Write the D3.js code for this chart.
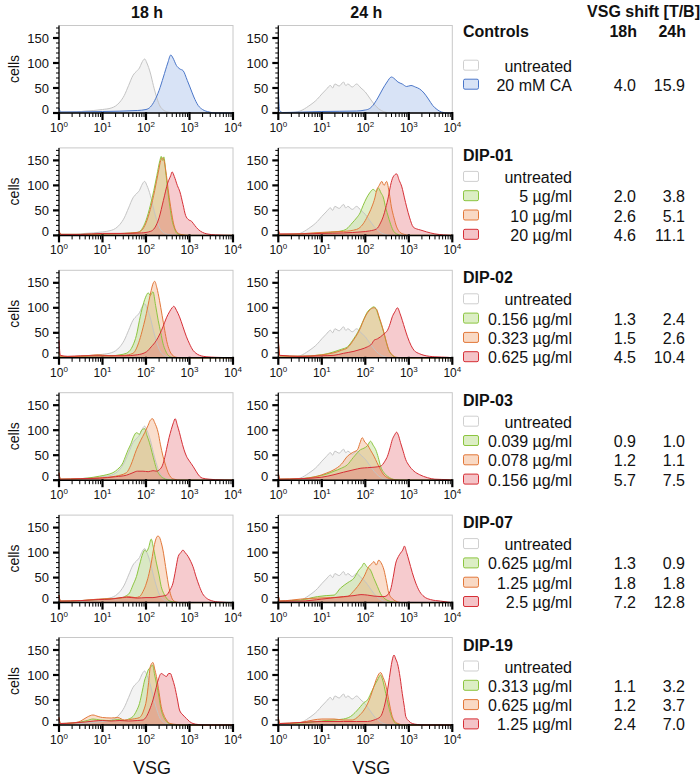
<!DOCTYPE html>
<html>
<head>
<meta charset="utf-8">
<script src="https://cdn.jsdelivr.net/npm/d3@7"></script>
<style>
    body { margin: 0; background: #fff; }
    text { font-family: "Liberation Sans", Arial, sans-serif; fill: #111; }
</style>
</head>
<body>
<div id="chart"></div>
<script>
// histogram points: [log10(VSG), cells]
var untreated18 = [[0,8],[0.04,2],[0.4,2],[0.6,4],[0.8,5],[1.0,7],[1.2,10],[1.3,14],[1.4,22],[1.5,35],[1.6,55],[1.7,75],[1.8,85],[1.85,90],[1.9,100],[1.97,108],[2.02,100],[2.1,80],[2.17,55],[2.25,30],[2.32,14],[2.4,6],[2.5,2],[2.7,0],[4,0]];
var untreated24 = [[0,4],[0.04,1],[0.3,1],[0.5,4],[0.7,14],[0.9,28],[1.0,38],[1.1,47],[1.2,55],[1.25,50],[1.3,58],[1.4,54],[1.5,62],[1.55,55],[1.6,58],[1.7,52],[1.8,58],[1.9,50],[2.0,42],[2.1,30],[2.2,18],[2.3,9],[2.45,2],[2.6,0],[4,0]];

var ca18 = [[0,10],[0.04,2],[1.0,3],[1.8,5],[2.0,7],[2.1,12],[2.2,25],[2.3,45],[2.4,72],[2.5,100],[2.57,116],[2.62,110],[2.7,95],[2.78,88],[2.85,85],[2.95,65],[3.01,52],[3.1,32],[3.2,15],[3.3,7],[3.45,2],[3.6,0],[4,0]];
var ca24 = [[0,45],[0.03,5],[0.1,1],[1.0,3],[1.8,4],[2.0,6],[2.1,9],[2.2,18],[2.3,32],[2.4,48],[2.5,62],[2.6,72],[2.65,70],[2.75,62],[2.85,58],[2.95,53],[3.05,55],[3.15,52],[3.25,48],[3.35,40],[3.45,28],[3.55,15],[3.65,7],[3.75,2],[3.9,0],[4,0]];

var dip01Low18 = [[0,8],[0.04,2],[0.5,2],[1.0,3],[1.5,4],[1.8,6],[1.9,12],[2.0,30],[2.1,60],[2.18,90],[2.25,120],[2.32,150],[2.35,158],[2.38,150],[2.41,157],[2.45,130],[2.5,90],[2.55,57],[2.6,30],[2.65,15],[2.71,4],[2.8,1],[3.0,0],[4,0]];
var dip01Mid18 = [[0,8],[0.04,2],[0.5,2],[1.0,3],[1.5,4],[1.8,6],[1.9,10],[2.0,25],[2.1,52],[2.2,90],[2.28,125],[2.34,150],[2.38,155],[2.42,148],[2.47,120],[2.52,85],[2.58,50],[2.63,25],[2.7,8],[2.8,2],[3.0,0],[4,0]];
var dip01High18 = [[0,10],[0.04,2],[0.5,2],[1.0,4],[1.5,4],[1.9,5],[2.1,8],[2.2,15],[2.3,35],[2.4,70],[2.5,105],[2.57,120],[2.6,127],[2.65,118],[2.72,100],[2.78,87],[2.85,62],[2.91,40],[2.97,32],[3.05,28],[3.12,20],[3.2,12],[3.3,6],[3.4,3],[3.6,1],[4,0]];
var dip01Low24 = [[0,8],[0.04,2],[0.5,3],[1.0,5],[1.3,7],[1.5,10],[1.57,13],[1.7,25],[1.8,35],[1.88,45],[1.95,60],[2.03,75],[2.1,85],[2.18,92],[2.25,88],[2.3,95],[2.36,85],[2.41,77],[2.47,55],[2.53,37],[2.6,18],[2.64,10],[2.72,3],[2.85,0],[4,0]];
var dip01Mid24 = [[0,8],[0.04,2],[0.5,3],[0.8,5],[1.2,7],[1.5,8],[1.8,12],[1.95,23],[2.05,38],[2.15,57],[2.22,75],[2.26,90],[2.32,100],[2.38,108],[2.43,100],[2.49,108],[2.55,85],[2.6,57],[2.66,35],[2.72,17],[2.8,6],[2.9,2],[3.0,0],[4,0]];
var dip01High24 = [[0,12],[0.04,3],[0.5,3],[1.0,4],[1.5,5],[1.9,7],[2.1,9],[2.26,13],[2.35,25],[2.41,37],[2.47,55],[2.53,77],[2.58,100],[2.64,117],[2.72,123],[2.78,110],[2.84,97],[2.9,75],[2.95,57],[3.02,35],[3.1,17],[3.18,13],[3.26,11],[3.41,7],[3.6,3],[3.8,1],[4,0]];

var dip02Low18 = [[0,10],[0.04,2],[0.5,3],[0.9,4],[1.2,4],[1.4,6],[1.55,9],[1.7,25],[1.78,45],[1.85,75],[1.93,105],[2.01,125],[2.05,130],[2.1,125],[2.16,132],[2.22,105],[2.28,75],[2.34,50],[2.39,29],[2.45,14],[2.51,5],[2.6,1],[2.8,0],[4,0]];
var dip02Mid18 = [[0,10],[0.04,2],[0.5,3],[0.9,6],[1.2,4],[1.5,5],[1.7,9],[1.85,35],[1.93,60],[2.01,89],[2.07,115],[2.12,135],[2.17,150],[2.2,153],[2.25,140],[2.31,115],[2.37,85],[2.43,55],[2.48,32],[2.54,15],[2.6,6],[2.7,1],[2.8,0],[4,0]];
var dip02High18 = [[0,35],[0.03,5],[0.2,3],[0.5,4],[1.0,4],[1.5,4],[1.8,6],[2.01,12],[2.12,22],[2.24,35],[2.32,48],[2.39,62],[2.47,80],[2.54,92],[2.6,100],[2.64,103],[2.7,95],[2.77,82],[2.85,62],[2.93,42],[3.0,28],[3.08,15],[3.15,9],[3.23,5],[3.4,2],[3.6,1],[4,0]];
var dip02Low24 = [[0,35],[0.03,4],[0.5,3],[1.0,6],[1.28,12],[1.45,17],[1.59,22],[1.74,39],[1.82,50],[1.89,62],[1.97,78],[2.05,92],[2.12,98],[2.2,102],[2.26,95],[2.31,82],[2.37,66],[2.43,49],[2.48,32],[2.54,15],[2.62,5],[2.7,1],[2.9,0],[4,0]];
var dip02Mid24 = [[0,35],[0.03,4],[0.5,3],[1.0,6],[1.28,10],[1.45,15],[1.59,20],[1.74,37],[1.82,48],[1.89,60],[1.97,77],[2.05,90],[2.12,97],[2.2,100],[2.26,97],[2.31,84],[2.37,68],[2.43,50],[2.48,33],[2.54,16],[2.62,6],[2.7,1],[2.9,0],[4,0]];
var dip02High24 = [[0,40],[0.03,5],[0.5,3],[1.0,4],[1.28,5],[1.5,9],[1.74,13],[1.9,17],[2.05,22],[2.15,28],[2.2,35],[2.28,38],[2.35,42],[2.43,48],[2.51,55],[2.57,68],[2.62,82],[2.68,92],[2.74,100],[2.8,88],[2.85,75],[2.91,58],[2.97,42],[3.05,25],[3.12,15],[3.25,8],[3.35,5],[3.6,2],[3.9,1],[4,0]];

var dip03Low18 = [[0,15],[0.03,2],[0.5,3],[0.8,6],[0.93,8],[1.1,11],[1.24,15],[1.35,22],[1.47,35],[1.53,48],[1.59,61],[1.65,72],[1.72,88],[1.78,95],[1.85,92],[1.9,100],[1.97,103],[2.02,90],[2.08,75],[2.14,55],[2.2,35],[2.25,20],[2.31,11],[2.4,4],[2.5,1],[2.7,0],[4,0]];
var dip03Mid18 = [[0,15],[0.03,2],[0.5,3],[1.0,5],[1.3,8],[1.55,15],[1.65,30],[1.78,61],[1.88,80],[1.97,95],[2.05,110],[2.1,120],[2.15,123],[2.2,115],[2.28,95],[2.33,72],[2.39,48],[2.45,30],[2.51,15],[2.57,6],[2.65,2],[2.8,0],[4,0]];
var dip03High18 = [[0,15],[0.03,2],[0.5,3],[0.93,4],[1.3,7],[1.55,10],[1.7,15],[1.8,18],[1.93,18],[2.05,17],[2.16,19],[2.25,18],[2.31,21],[2.38,30],[2.43,45],[2.47,61],[2.53,85],[2.58,101],[2.63,115],[2.67,123],[2.72,110],[2.77,95],[2.81,81],[2.87,62],[2.93,48],[3.0,38],[3.08,28],[3.15,18],[3.23,8],[3.3,4],[3.45,2],[3.6,1],[4,0]];
var dip03Low24 = [[0,15],[0.03,2],[0.5,3],[0.9,8],[1.1,12],[1.28,18],[1.45,24],[1.59,31],[1.72,45],[1.82,55],[1.89,61],[1.97,64],[2.05,69],[2.12,78],[2.18,70],[2.24,61],[2.3,45],[2.35,28],[2.43,15],[2.51,8],[2.6,3],[2.7,1],[2.9,0],[4,0]];
var dip03Mid24 = [[0,15],[0.03,2],[0.5,3],[0.9,8],[1.1,14],[1.28,21],[1.45,32],[1.59,48],[1.7,55],[1.82,61],[1.88,75],[1.93,85],[1.99,76],[2.05,71],[2.12,60],[2.2,48],[2.27,35],[2.35,21],[2.43,10],[2.51,5],[2.6,2],[2.75,0],[4,0]];
var dip03High24 = [[0,15],[0.03,2],[0.5,3],[1.0,6],[1.28,11],[1.5,16],[1.74,21],[1.9,24],[2.05,25],[2.2,26],[2.35,28],[2.45,38],[2.51,48],[2.57,65],[2.62,81],[2.67,90],[2.72,96],[2.76,90],[2.81,75],[2.87,58],[2.93,41],[3.0,30],[3.12,18],[3.25,11],[3.43,5],[3.6,2],[3.9,1],[4,0]];

var dip07Low18 = [[0,15],[0.03,3],[0.5,4],[0.9,6],[1.2,8],[1.4,9],[1.55,14],[1.62,19],[1.7,35],[1.78,52],[1.85,75],[1.93,99],[1.97,105],[2.01,102],[2.06,110],[2.12,127],[2.17,110],[2.24,79],[2.3,55],[2.35,32],[2.41,18],[2.47,9],[2.55,3],[2.65,1],[2.8,0],[4,0]];
var dip07Mid18 = [[0,15],[0.03,3],[0.5,4],[0.9,7],[1.2,8],[1.5,10],[1.6,12],[1.75,10],[1.85,12],[1.93,22],[2.01,39],[2.07,58],[2.12,79],[2.17,105],[2.22,125],[2.27,133],[2.3,132],[2.35,120],[2.39,105],[2.45,72],[2.51,39],[2.56,18],[2.62,5],[2.7,1],[2.8,0],[4,0]];
var dip07High18 = [[0,15],[0.03,3],[0.5,4],[0.9,6],[1.2,7],[1.55,11],[1.8,9],[2.0,10],[2.16,10],[2.3,12],[2.47,15],[2.55,25],[2.62,39],[2.68,65],[2.74,92],[2.8,100],[2.85,105],[2.9,100],[2.97,92],[3.03,82],[3.08,72],[3.15,52],[3.23,32],[3.3,18],[3.39,9],[3.5,4],[3.7,1],[4,0]];
var dip07Low24 = [[0,15],[0.03,3],[0.3,4],[0.51,5],[0.9,12],[1.1,14],[1.28,15],[1.43,29],[1.6,40],[1.74,49],[1.85,65],[1.92,72],[1.97,79],[2.03,72],[2.12,65],[2.2,48],[2.28,32],[2.35,18],[2.43,9],[2.52,4],[2.65,1],[2.8,0],[4,0]];
var dip07Mid24 = [[0,15],[0.03,3],[0.3,5],[0.51,7],[0.9,9],[1.2,10],[1.59,12],[1.72,22],[1.82,32],[1.9,42],[1.97,52],[2.08,72],[2.15,78],[2.2,82],[2.25,75],[2.31,85],[2.36,80],[2.43,65],[2.48,45],[2.54,19],[2.62,8],[2.7,3],[2.85,0],[4,0]];
var dip07High24 = [[0,15],[0.03,3],[0.5,3],[1.0,7],[1.3,10],[1.5,12],[1.74,14],[1.9,16],[2.05,15],[2.2,13],[2.43,12],[2.52,16],[2.58,25],[2.64,50],[2.7,79],[2.76,92],[2.81,99],[2.86,105],[2.9,113],[2.95,100],[3.0,85],[3.08,60],[3.16,39],[3.25,22],[3.35,12],[3.5,6],[3.73,3],[3.9,1],[4,0]];

var dip19Low18 = [[0,15],[0.03,3],[0.3,4],[0.5,6],[0.65,9],[0.78,12],[0.95,10],[1.2,9],[1.35,11],[1.5,9],[1.6,12],[1.7,17],[1.78,28],[1.85,43],[1.92,70],[1.97,90],[2.02,102],[2.05,110],[2.1,115],[2.15,120],[2.2,100],[2.24,83],[2.3,55],[2.35,30],[2.41,15],[2.47,7],[2.55,2],[2.7,0],[4,0]];
var dip19Mid18 = [[0,15],[0.03,3],[0.3,4],[0.5,8],[0.65,16],[0.78,20],[0.9,17],[1.0,15],[1.2,14],[1.35,15],[1.5,10],[1.7,12],[1.85,15],[1.95,30],[2.01,50],[2.06,85],[2.1,117],[2.16,125],[2.2,112],[2.24,97],[2.3,65],[2.35,37],[2.41,20],[2.47,10],[2.55,3],[2.7,1],[2.9,0],[4,0]];
var dip19High18 = [[0,15],[0.03,3],[0.3,4],[0.6,6],[0.8,8],[1.0,9],[1.2,8],[1.4,9],[1.6,8],[1.8,9],[1.93,10],[2.01,17],[2.08,30],[2.16,50],[2.22,70],[2.28,90],[2.35,103],[2.41,100],[2.47,97],[2.52,103],[2.56,103],[2.61,92],[2.66,77],[2.72,52],[2.77,30],[2.85,20],[2.93,13],[3.0,7],[3.08,3],[3.2,1],[3.4,0],[4,0]];
var dip19Low24 = [[0,15],[0.03,3],[0.5,4],[0.9,7],[1.1,9],[1.28,10],[1.5,12],[1.66,17],[1.8,28],[1.89,37],[1.97,45],[2.05,50],[2.12,62],[2.2,77],[2.28,90],[2.35,100],[2.4,90],[2.47,63],[2.53,40],[2.58,23],[2.64,10],[2.7,3],[2.85,0],[4,0]];
var dip19Mid24 = [[0,15],[0.03,3],[0.5,5],[0.8,10],[1.0,12],[1.28,12],[1.5,10],[1.7,10],[1.85,18],[1.97,30],[2.05,42],[2.12,57],[2.2,78],[2.28,97],[2.35,105],[2.41,95],[2.47,80],[2.51,63],[2.56,40],[2.62,17],[2.68,7],[2.75,3],[2.9,0],[4,0]];
var dip19High24 = [[0,15],[0.03,3],[0.5,5],[1.0,7],[1.5,7],[1.8,7],[2.05,7],[2.2,10],[2.35,17],[2.43,35],[2.47,50],[2.53,80],[2.58,110],[2.62,130],[2.66,140],[2.7,132],[2.74,123],[2.8,95],[2.85,63],[2.9,35],[2.93,17],[3.0,8],[3.08,3],[3.2,1],[3.4,0],[4,0]];

var timepoints = ["18 h", "24 h"];
var shiftHeaders = ["18h", "24h"];
var groupNames = ["Controls", "DIP-01", "DIP-02", "DIP-03", "DIP-07", "DIP-19"];
var doseLabels = [
    ["20 mM CA"],
    ["5 µg/ml", "10 µg/ml", "20 µg/ml"],
    ["0.156 µg/ml", "0.323 µg/ml", "0.625 µg/ml"],
    ["0.039 µg/ml", "0.078 µg/ml", "0.156 µg/ml"],
    ["0.625 µg/ml", "1.25 µg/ml", "2.5 µg/ml"],
    ["0.313 µg/ml", "0.625 µg/ml", "1.25 µg/ml"]
];
var shift18 = [["4.0"], ["2.0", "2.6", "4.6"], ["1.3", "1.5", "4.5"], ["0.9", "1.2", "5.7"], ["1.3", "1.8", "7.2"], ["1.1", "1.2", "2.4"]];
var shift24 = [["15.9"], ["3.8", "5.1", "11.1"], ["2.4", "2.6", "10.4"], ["1.0", "1.1", "7.5"], ["0.9", "1.8", "12.8"], ["3.2", "3.7", "7.0"]];
var yTicks = [0, 50, 100, 150];

// per group: [18h curves, 24h curves]
var curves = [
    [[ca18], [ca24]],
    [[dip01Low18, dip01Mid18, dip01High18], [dip01Low24, dip01Mid24, dip01High24]],
    [[dip02Low18, dip02Mid18, dip02High18], [dip02Low24, dip02Mid24, dip02High24]],
    [[dip03Low18, dip03Mid18, dip03High18], [dip03Low24, dip03Mid24, dip03High24]],
    [[dip07Low18, dip07Mid18, dip07High18], [dip07Low24, dip07Mid24, dip07High24]],
    [[dip19Low18, dip19Mid18, dip19High18], [dip19Low24, dip19Mid24, dip19High24]]
];

var gray = {fill: "#d8d8d8", stroke: "#c4c4c4"},
    blue = {fill: "#9db8e8", stroke: "#4a76c9"},
    doseColors = [
        {fill: "#a8d46c", stroke: "#8cc540"},
        {fill: "#f0a06c", stroke: "#e2783a"},
        {fill: "#e46a74", stroke: "#d62f36"}
    ];

var width = 700,
    height = 777,
    colX = [59, 278.3],
    panelW = 174,
    rowY0 = 113,
    rowStep = 122.4;

var svg = d3.select("#chart")
    .append("svg")
    .attr("width", width)
    .attr("height", height);

var y = d3.scaleLinear().domain([0, 175]).range([0, -87.5]);

// column headers
svg.selectAll(".colhead")
    .data(timepoints)
    .enter().append("text")
    .attr("x", function(d, i) { return colX[i] + panelW / 2 + 1; })
    .attr("y", 18)
    .attr("text-anchor", "middle")
    .style("font-weight", "bold")
    .style("font-size", "16px")
    .text(function(d) { return d; });

svg.append("text")
    .attr("x", 700)
    .attr("y", 17)
    .attr("text-anchor", "end")
    .style("font-weight", "bold")
    .style("font-size", "16px")
    .text("VSG shift [T/B]");

var valX = [636, 685];

groupNames.forEach(function(name, g) {
    var axisY = rowY0 + g * rowStep;

    [0, 1].forEach(function(c) {
        var x = d3.scaleLog().domain([1, 1e4]).range([colX[c], colX[c] + panelW]);
        var panel = svg.append("g").attr("transform", "translate(0," + axisY + ")");

        // frame
        panel.append("rect")
            .attr("x", colX[c])
            .attr("y", y(175))
            .attr("width", panelW)
            .attr("height", -y(175))
            .style("fill", "none")
            .style("stroke", "#c8c8c8")
            .style("stroke-width", 1);

        var area = d3.area()
            .x(function(d) { return x(Math.pow(10, d[0])); })
            .y0(y(0))
            .y1(function(d) { return y(d[1]); })
            .curve(d3.curveMonotoneX);
        var line = d3.line()
            .x(function(d) { return x(Math.pow(10, d[0])); })
            .y(function(d) { return y(d[1]); })
            .curve(d3.curveMonotoneX);

        var series = [{data: c === 0 ? untreated18 : untreated24, col: gray, op: 0.3}];
        curves[g][c].forEach(function(d, k) {
            series.push({
                data: d,
                col: g === 0 ? blue : doseColors[k],
                op: g === 0 ? 0.4 : 0.35
            });
        });

        series.forEach(function(s) {
            panel.append("path")
                .attr("d", area(s.data))
                .style("fill", s.col.fill)
                .style("fill-opacity", s.op);
        });
        series.forEach(function(s) {
            panel.append("path")
                .attr("d", line(s.data))
                .style("fill", "none")
                .style("stroke", s.col.stroke)
                .style("stroke-width", 1);
        });

        // y axis
        panel.append("line")
            .attr("x1", colX[c]).attr("x2", colX[c])
            .attr("y1", y(0)).attr("y2", y(175))
            .style("stroke", "#000").style("stroke-width", 1.2);
        panel.selectAll(".ymin")
            .data(d3.range(0, 180, 10))
            .enter().append("line")
            .attr("x1", colX[c] - 3).attr("x2", colX[c])
            .attr("y1", function(d) { return y(d); })
            .attr("y2", function(d) { return y(d); })
            .style("stroke", "#000").style("stroke-width", 1);
        panel.selectAll(".ymaj")
            .data(yTicks)
            .enter().append("line")
            .attr("x1", colX[c] - 6).attr("x2", colX[c])
            .attr("y1", function(d) { return y(d); })
            .attr("y2", function(d) { return y(d); })
            .style("stroke", "#000").style("stroke-width", 2.2);
        panel.selectAll(".ylab")
            .data(yTicks)
            .enter().append("text")
            .attr("x", colX[c] - 10)
            .attr("y", function(d) { return y(d) + (d === 0 ? -4 : 0); })
            .attr("dy", "0.35em")
            .attr("text-anchor", "end")
            .style("font-size", "13px")
            .text(function(d) { return d; });

        // x axis
        panel.append("line")
            .attr("x1", colX[c]).attr("x2", colX[c] + panelW)
            .attr("y1", 0).attr("y2", 0)
            .style("stroke", "#000").style("stroke-width", 1.5);
        var minors = [];
        for (var e = 0; e < 4; e++) {
            for (var m = 2; m < 10; m++) minors.push(m * Math.pow(10, e));
        }
        panel.selectAll(".xmin")
            .data(minors)
            .enter().append("line")
            .attr("x1", function(d) { return x(d); })
            .attr("x2", function(d) { return x(d); })
            .attr("y1", 0).attr("y2", 4)
            .style("stroke", "#000").style("stroke-width", 1);
        var majors = [1, 10, 100, 1000, 10000];
        panel.selectAll(".xmaj")
            .data(majors)
            .enter().append("line")
            .attr("x1", function(d) { return x(d); })
            .attr("x2", function(d) { return x(d); })
            .attr("y1", -1).attr("y2", 7)
            .style("stroke", "#000").style("stroke-width", 2.2);
        var xl = panel.selectAll(".xlab")
            .data(majors)
            .enter().append("text")
            .attr("x", function(d) { return x(d); })
            .attr("y", 19)
            .attr("text-anchor", "middle")
            .style("font-size", "12px");
        xl.append("tspan").text("10");
        xl.append("tspan")
            .attr("dy", "-5")
            .style("font-size", "8px")
            .text(function(d) { return Math.round(Math.log10(d)); });

        if (c === 0) {
            panel.append("text")
                .attr("transform", "translate(19," + (-44) + ") rotate(-90)")
                .attr("text-anchor", "middle")
                .style("font-size", "14px")
                .text("cells");
        }
        if (g === groupNames.length - 1) {
            svg.append("text")
                .attr("x", colX[c] + panelW / 2 + 6)
                .attr("y", 774)
                .attr("text-anchor", "middle")
                .style("font-size", "18px")
                .text("VSG");
        }
    });

    // legend block
    var leg = svg.append("g");
    var titleY, rowYs;
    if (g === 0) {
        titleY = axisY - 76;
        rowYs = [axisY - 41.3, axisY - 22.3];
        shiftHeaders.forEach(function(h, i) {
            leg.append("text")
                .attr("x", valX[i] + 1)
                .attr("y", titleY)
                .attr("text-anchor", "end")
                .style("font-weight", "bold")
                .style("font-size", "16px")
                .text(h);
        });
    } else {
        titleY = axisY - 74.5;
        rowYs = [0, 1, 2, 3].map(function(i) { return axisY - 52.5 + i * 19.3; });
    }
    leg.append("text")
        .attr("x", 463)
        .attr("y", titleY)
        .style("font-weight", "bold")
        .style("font-size", "16px")
        .text(name);

    var entries = [{label: "untreated", col: {fill: "#fff", stroke: "#cfcfcf"}, op: 1, v18: "", v24: ""}];
    doseLabels[g].forEach(function(lab, k) {
        entries.push({
            label: lab,
            col: g === 0 ? blue : doseColors[k],
            op: 0.4,
            v18: shift18[g][k],
            v24: shift24[g][k]
        });
    });

    entries.forEach(function(en, i) {
        var by = rowYs[i];
        leg.append("rect")
            .attr("x", 463.5)
            .attr("y", by - 11.5)
            .attr("width", 15)
            .attr("height", 10)
            .attr("rx", 1.5)
            .style("fill", en.col.fill)
            .style("fill-opacity", en.op)
            .style("stroke", en.col.stroke)
            .style("stroke-width", 1);
        leg.append("text")
            .attr("x", 572)
            .attr("y", by)
            .attr("text-anchor", "end")
            .style("font-size", "16px")
            .text(en.label);
        leg.append("text")
            .attr("x", valX[0])
            .attr("y", by)
            .attr("text-anchor", "end")
            .style("font-size", "16px")
            .text(en.v18);
        leg.append("text")
            .attr("x", valX[1])
            .attr("y", by)
            .attr("text-anchor", "end")
            .style("font-size", "16px")
            .text(en.v24);
    });
});
</script>
</body>
</html>
